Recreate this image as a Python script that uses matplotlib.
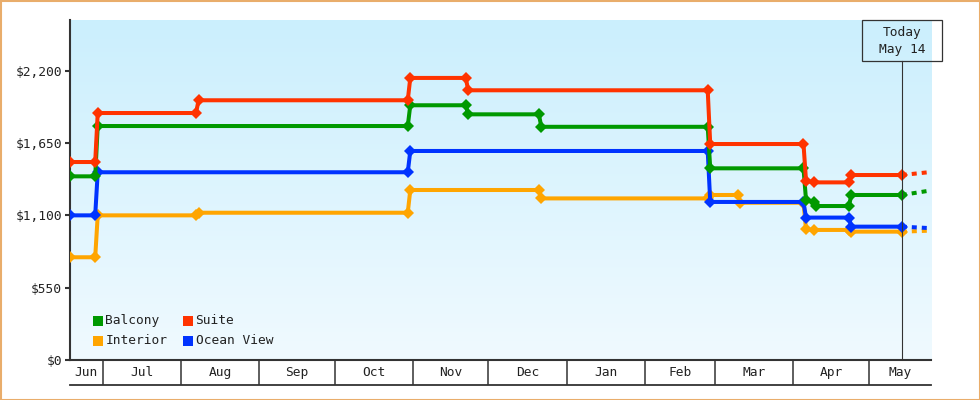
import matplotlib
matplotlib.use('Agg')
import numpy as np
import matplotlib.pyplot as plt
import matplotlib.dates as md
from matplotlib.patches import Rectangle
from matplotlib.lines import Line2D
from matplotlib.transforms import IdentityTransform
from matplotlib.colors import LinearSegmentedColormap
from datetime import datetime

plt.rcParams['font.family'] = ['DejaVu Sans Mono']
plt.rcParams['lines.scale_dashes'] = False

# ---- data ----
suite_dates = ['2014-06-18', '2014-06-28', '2014-06-29', '2014-08-07', '2014-08-08', '2014-10-30',
               '2014-10-31', '2014-11-22', '2014-11-23', '2015-02-26', '2015-02-27', '2015-04-05',
               '2015-04-06', '2015-04-09', '2015-04-23', '2015-04-24', '2015-05-14']
suite_prices = [1507, 1507, 1880, 1880, 1977, 1977, 2147, 2147, 2053, 2053, 1644, 1644,
                1365, 1352, 1352, 1408, 1408]

balcony_dates = ['2014-06-18', '2014-06-28', '2014-06-29', '2014-10-30', '2014-10-31', '2014-11-22',
                 '2014-11-23', '2014-12-21', '2014-12-22', '2015-02-26', '2015-02-27', '2015-04-05',
                 '2015-04-06', '2015-04-09', '2015-04-10', '2015-04-23', '2015-04-24', '2015-05-14']
balcony_prices = [1398, 1398, 1781, 1781, 1939, 1939, 1870, 1870, 1775, 1775, 1459, 1459,
                  1218, 1205, 1172, 1172, 1256, 1256]

ocean_dates = ['2014-06-18', '2014-06-28', '2014-06-29', '2014-10-30', '2014-10-31', '2015-02-26',
               '2015-02-27', '2015-04-05', '2015-04-06', '2015-04-23', '2015-04-24', '2015-05-14']
ocean_prices = [1101, 1101, 1429, 1429, 1591, 1591, 1203, 1203, 1084, 1084, 1015, 1015]

interior_dates = ['2014-06-18', '2014-06-28', '2014-06-29', '2014-08-07', '2014-08-08', '2014-10-30',
                  '2014-10-31', '2014-12-21', '2014-12-22', '2015-02-26', '2015-02-27', '2015-03-10',
                  '2015-03-11', '2015-04-05', '2015-04-06', '2015-04-09', '2015-04-23', '2015-04-24',
                  '2015-05-14']
interior_prices = [782, 782, 1101, 1101, 1121, 1121, 1294, 1294, 1230, 1230, 1256, 1256,
                   1197, 1197, 995, 990, 990, 977, 977]

# dashed projection after today
forecast_end = '2015-05-26'
forecast_prices = {'Suite': 1432, 'Balcony': 1292, 'Ocean View': 1003, 'Interior': 985}

today = '2015-05-14'
x_start, x_end = '2014-06-18', '2015-05-25 14:00'
y_max = 2588

yticks = [0, 550, 1100, 1650, 2200]
ytick_labels = ['$0', '$550', '$1,100', '$1,650', '$2,200']
month_starts = ['2014-07-01', '2014-08-01', '2014-09-01', '2014-10-01', '2014-11-01', '2014-12-01',
                '2015-01-01', '2015-02-01', '2015-03-01', '2015-04-01', '2015-05-01']
month_names = ['Jun', 'Jul', 'Aug', 'Sep', 'Oct', 'Nov', 'Dec', 'Jan', 'Feb', 'Mar', 'Apr', 'May']

colors = {'Balcony': '#009900', 'Suite': '#ff3300', 'Interior': '#ffa500', 'Ocean View': '#0033ff'}
ink = '#333333'


def d(s):
    return md.date2num(datetime.fromisoformat(s))


series = [('Interior', interior_dates, interior_prices),
          ('Ocean View', ocean_dates, ocean_prices),
          ('Balcony', balcony_dates, balcony_prices),
          ('Suite', suite_dates, suite_prices)]

fig = plt.figure(figsize=(9.8, 4), dpi=100)
ax = fig.add_axes([70 / 980, 40 / 400, 861 / 980, 340 / 400])

# gradient background
bg = LinearSegmentedColormap.from_list('bg', ['#cbeffd', '#f0faff'])
ax.imshow(np.linspace(0, 1, 256).reshape(-1, 1), cmap=bg, extent=[0, 1, 0, 1],
          transform=ax.transAxes, aspect='auto', zorder=0)

for z, (name, ds, ps) in enumerate(series):
    xs = [d(s) for s in ds]
    ax.plot([d(today), d(forecast_end)], [ps[-1], forecast_prices[name]], color=colors[name],
            lw=2.9, linestyle=(0, (3.6, 3.6)), zorder=2, dash_capstyle='butt')
    ax.plot(xs, ps, color=colors[name], lw=2.9, marker='D', ms=6.4, mew=0, zorder=3 + z)

ax.set_xlim(d(x_start), d(x_end))
ax.set_ylim(0, y_max)

# today marker line
ax.axvline(d(today), ymin=0, ymax=(360 - 60.7) / 340, color=ink, lw=0.8, zorder=10)

# axes styling
for side in ['top', 'right']:
    ax.spines[side].set_visible(False)
for side in ['left', 'bottom']:
    ax.spines[side].set_color(ink)
    ax.spines[side].set_linewidth(1.5)
ax.set_yticks(yticks)
ax.set_yticklabels(ytick_labels)
ax.tick_params(axis='y', length=3.6, width=1.5, color=ink, pad=2.2, labelsize=9.3, labelcolor='#222222')

bounds = [d(x_start)] + [d(m) for m in month_starts] + [d(x_end)]
mids = [(a + b) / 2 for a, b in zip(bounds[:-1], bounds[1:])]
ax.set_xticks([d(m) for m in month_starts])
ax.set_xticklabels([])
ax.tick_params(axis='x', which='major', length=18, width=1.1, color=ink, direction='out')
ax.set_xticks(mids, minor=True)
ax.set_xticklabels(month_names, minor=True)
ax.tick_params(axis='x', which='minor', length=0, pad=4.5, labelsize=9.3, labelcolor='#222222')
ax.add_line(Line2D([0, 1], [-25 / 340] * 2, transform=ax.transAxes, color=ink, lw=1.3, clip_on=False))

# legend (two columns, lower left of the plot)
legend_items = [('Balcony', 0, 0), ('Suite', 1, 0), ('Interior', 0, 1), ('Ocean View', 1, 1)]
for name, col, row in legend_items:
    sx = (28 + col * 90) / 861
    sy = (39.3 - row * 20) / 340
    ax.scatter([sx], [sy], marker='s', s=52, color=colors[name], transform=ax.transAxes,
               zorder=12, linewidths=0, clip_on=False)
    ax.text(sx + 7.5 / 861, sy, name, transform=ax.transAxes, va='center', ha='left',
            fontsize=9.3, color='#222222', zorder=12)

# today box
fig.canvas.draw()
tx = ax.transData.transform((d(today), 0))[0]
fig.add_artist(Rectangle((tx - 40, 400 - 60.7), 80, 40.7, transform=IdentityTransform(),
                         fill=False, ec=ink, lw=0.9))
fig.text(tx, 400 - 32.5, 'Today', transform=IdentityTransform(), ha='center', va='center',
         fontsize=9.3, color='#222222')
fig.text(tx, 400 - 50, 'May 14', transform=IdentityTransform(), ha='center', va='center',
         fontsize=9.3, color='#222222')

# outer border
fig.add_artist(Rectangle((0.5, 0.5), 979, 399, transform=IdentityTransform(), fill=False,
                         ec='#e9ad6b', lw=1.5))

fig.savefig('out.png', dpi=100)
